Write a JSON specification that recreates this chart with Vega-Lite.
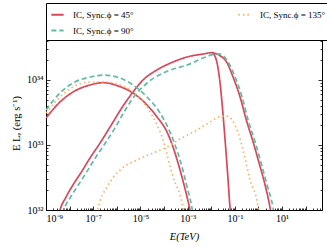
{
  "$schema": "https://vega.github.io/schema/vega-lite/v6.json",
  "width": 276,
  "height": 174,
  "autosize": {"type": "none"},
  "padding": {"left": 46, "top": 36, "right": 5, "bottom": 37},
  "config": {
    "view": {"stroke": "black", "strokeWidth": 1},
    "axis": {"grid": false, "domainColor": "black", "tickColor": "black", "tickWidth": 0.8, "labelColor": "black", "titleColor": "black", "labelFont": "Liberation Serif", "labelFontSize": 10, "titleFont": "Liberation Serif", "titleFontSize": 10.5, "titleFontWeight": "normal"}
  },
  "data": {"values": [
    {"p":"45","c":"sync","x":1e-9,"y":2.6e33},{"p":"45","c":"sync","x":3.92e-9,"y":4.59e33},{"p":"45","c":"sync","x":1.39e-8,"y":6.53e33},{"p":"45","c":"sync","x":7.31e-8,"y":8.38e33},{"p":"45","c":"sync","x":2.6e-7,"y":9.08e33},{"p":"45","c":"sync","x":1.37e-6,"y":7.89e33},{"p":"45","c":"sync","x":4.85e-6,"y":6.31e33},{"p":"45","c":"sync","x":1.91e-5,"y":4.12e33},{"p":"45","c":"sync","x":5.05e-5,"y":2.7e33},{"p":"45","c":"sync","x":1.34e-4,"y":1.58e33},{"p":"45","c":"sync","x":2.4e-4,"y":9.31e32},{"p":"45","c":"sync","x":4.76e-4,"y":4.12e32},{"p":"45","c":"sync","x":9.44e-4,"y":1.58e32},{"p":"45","c":"sync","x":1.26e-3,"y":1e32},{"p":"45","c":"sync","x":1.38e-3,"y":8.4e31},
    {"p":"45","c":"ic","x":3.22e-9,"y":7.5e31},{"p":"45","c":"ic","x":3.92e-9,"y":1e32},{"p":"45","c":"ic","x":7.03e-9,"y":1.58e32},{"p":"45","c":"ic","x":1.39e-8,"y":2.43e32},{"p":"45","c":"ic","x":3.35e-8,"y":3.98e32},{"p":"45","c":"ic","x":7.31e-8,"y":6.31e32},{"p":"45","c":"ic","x":1.94e-7,"y":1.07e33},{"p":"45","c":"ic","x":5.15e-7,"y":1.89e33},{"p":"45","c":"ic","x":1.83e-6,"y":3.98e33},{"p":"45","c":"ic","x":4.85e-6,"y":6.53e33},{"p":"45","c":"ic","x":1.29e-5,"y":1e34},{"p":"45","c":"ic","x":5.05e-5,"y":1.43e34},{"p":"45","c":"ic","x":2.4e-4,"y":1.89e34},{"p":"45","c":"ic","x":9.44e-4,"y":2.26e34},{"p":"45","c":"ic","x":4.5e-3,"y":2.51e34},{"p":"45","c":"ic","x":1.08e-2,"y":2.63e34},{"p":"45","c":"ic","x":1.45e-2,"y":2.3e34},{"p":"45","c":"ic","x":1.76e-2,"y":1.83e34},{"p":"45","c":"ic","x":2.36e-2,"y":8.99e33},{"p":"45","c":"ic","x":3.16e-2,"y":2.9e33},{"p":"45","c":"ic","x":3.85e-2,"y":1.19e33},{"p":"45","c":"ic","x":5.15e-2,"y":2.9e32},{"p":"45","c":"ic","x":6.27e-2,"y":1.07e32},{"p":"45","c":"ic","x":6.9e-2,"y":8e31},
    {"p":"45","c":"ic2","x":1.08e-2,"y":2.63e34},{"p":"45","c":"ic2","x":2.2e-2,"y":2.4e34},{"p":"45","c":"ic2","x":4.67e-2,"y":1.83e34},{"p":"45","c":"ic2","x":8.39e-2,"y":1.11e34},{"p":"45","c":"ic2","x":0.166,"y":5.47e33},{"p":"45","c":"ic2","x":0.298,"y":2.5e33},{"p":"45","c":"ic2","x":0.59,"y":1.12e33},{"p":"45","c":"ic2","x":1.06,"y":5.28e32},{"p":"45","c":"ic2","x":1.9,"y":2.43e32},{"p":"45","c":"ic2","x":3.1,"y":1.07e32},{"p":"45","c":"ic2","x":3.4,"y":8.7e31},
    {"p":"90","c":"sync","x":1e-9,"y":3.45e33},{"p":"90","c":"sync","x":3.92e-9,"y":6.31e33},{"p":"90","c":"sync","x":1.39e-8,"y":8.99e33},{"p":"90","c":"sync","x":7.31e-8,"y":1.11e34},{"p":"90","c":"sync","x":2.6e-7,"y":1.19e34},{"p":"90","c":"sync","x":1.02e-6,"y":1.11e34},{"p":"90","c":"sync","x":4.85e-6,"y":8.38e33},{"p":"90","c":"sync","x":1.91e-5,"y":5.47e33},{"p":"90","c":"sync","x":6.78e-5,"y":3.1e33},{"p":"90","c":"sync","x":1.79e-4,"y":1.58e33},{"p":"90","c":"sync","x":2.92e-4,"y":1e33},{"p":"90","c":"sync","x":4.76e-4,"y":5.87e32},{"p":"90","c":"sync","x":9.44e-4,"y":2.26e32},{"p":"90","c":"sync","x":1.53e-3,"y":1.07e32},{"p":"90","c":"sync","x":1.69e-3,"y":8.7e31},
    {"p":"90","c":"ic","x":5.25e-9,"y":8.7e31},{"p":"90","c":"ic","x":5.79e-9,"y":1e32},{"p":"90","c":"ic","x":1.04e-8,"y":1.53e32},{"p":"90","c":"ic","x":2.06e-8,"y":2.26e32},{"p":"90","c":"ic","x":4.95e-8,"y":3.71e32},{"p":"90","c":"ic","x":1.08e-7,"y":5.87e32},{"p":"90","c":"ic","x":2.87e-7,"y":1e33},{"p":"90","c":"ic","x":8.39e-7,"y":1.83e33},{"p":"90","c":"ic","x":2.02e-6,"y":3.22e33},{"p":"90","c":"ic","x":4.85e-6,"y":5.28e33},{"p":"90","c":"ic","x":1.91e-5,"y":8.99e33},{"p":"90","c":"ic","x":9.08e-5,"y":1.28e34},{"p":"90","c":"ic","x":4.76e-4,"y":1.58e34},{"p":"90","c":"ic","x":9.44e-4,"y":1.7e34},{"p":"90","c":"ic","x":4.5e-3,"y":2.18e34},{"p":"90","c":"ic","x":1.76e-2,"y":2.51e34},{"p":"90","c":"ic","x":2.36e-2,"y":2.51e34},{"p":"90","c":"ic","x":5.15e-2,"y":1.89e34},{"p":"90","c":"ic","x":0.102,"y":1.11e34},{"p":"90","c":"ic","x":0.202,"y":5.47e33},{"p":"90","c":"ic","x":0.362,"y":2.43e33},{"p":"90","c":"ic","x":0.718,"y":1.12e33},{"p":"90","c":"ic","x":1.29,"y":5.28e32},{"p":"90","c":"ic","x":2.31,"y":2.43e32},{"p":"90","c":"ic","x":4.16,"y":1.07e32},{"p":"90","c":"ic","x":4.58,"y":8.7e31},
    {"p":"135","c":"sync","x":1e-9,"y":3.1e33},{"p":"135","c":"sync","x":3.92e-9,"y":5.47e33},{"p":"135","c":"sync","x":1.39e-8,"y":7.8e33},{"p":"135","c":"sync","x":7.31e-8,"y":9.31e33},{"p":"135","c":"sync","x":3.85e-7,"y":9.31e33},{"p":"135","c":"sync","x":1.37e-6,"y":8.38e33},{"p":"135","c":"sync","x":4.85e-6,"y":6.53e33},{"p":"135","c":"sync","x":1.29e-5,"y":4.59e33},{"p":"135","c":"sync","x":3.42e-5,"y":2.7e33},{"p":"135","c":"sync","x":9.08e-5,"y":1.19e33},{"p":"135","c":"sync","x":2.4e-4,"y":3.22e32},{"p":"135","c":"sync","x":5.79e-4,"y":1.28e32},{"p":"135","c":"sync","x":7.03e-4,"y":8.7e31},
    {"p":"135","c":"ic","x":1.45e-7,"y":8.7e31},{"p":"135","c":"ic","x":1.6e-7,"y":1.07e32},{"p":"135","c":"ic","x":3.85e-7,"y":2.26e32},{"p":"135","c":"ic","x":1.37e-6,"y":4.12e32},{"p":"135","c":"ic","x":7.18e-6,"y":5.87e32},{"p":"135","c":"ic","x":3.42e-5,"y":7.53e32},{"p":"135","c":"ic","x":1.34e-4,"y":9.31e32},{"p":"135","c":"ic","x":4.76e-4,"y":1.24e33},{"p":"135","c":"ic","x":2.5e-3,"y":1.7e33},{"p":"135","c":"ic","x":8.89e-3,"y":2.26e33},{"p":"135","c":"ic","x":2.87e-2,"y":2.79e33},{"p":"135","c":"ic","x":4.24e-2,"y":2.79e33},{"p":"135","c":"ic","x":7.6e-2,"y":2.43e33},{"p":"135","c":"ic","x":0.137,"y":1.53e33},{"p":"135","c":"ic","x":0.222,"y":8.38e32},{"p":"135","c":"ic","x":0.441,"y":2.9e32},{"p":"135","c":"ic","x":0.962,"y":1.11e32},{"p":"135","c":"ic","x":1.05,"y":8.7e31}
  ]},
  "layer": [
    {
      "mark": {"type": "line", "clip": true, "interpolate": "monotone"},
      "encoding": {
        "x": {"field": "x", "type": "quantitative", "scale": {"type": "log", "domain": [1e-9, 490], "nice": false},
          "axis": {"orient": "bottom", "title": "E(TeV)", "titleFontStyle": "italic", "titlePadding": 8, "labelPadding": 7,
            "values": [1e-9,2e-9,3e-9,4e-9,5e-9,6e-9,7e-9,8e-9,9e-9,1e-8,2e-8,3e-8,4e-8,5e-8,6e-8,7e-8,8e-8,9e-8,1e-7,2e-7,3e-7,4e-7,5e-7,6e-7,7e-7,8e-7,9e-7,1e-6,2e-6,3e-6,4e-6,5e-6,6e-6,7e-6,8e-6,9e-6,1e-5,2e-5,3e-5,4e-5,5e-5,6e-5,7e-5,8e-5,9e-5,1e-4,2e-4,3e-4,4e-4,5e-4,6e-4,7e-4,8e-4,9e-4,1e-3,2e-3,3e-3,4e-3,5e-3,6e-3,7e-3,8e-3,9e-3,1e-2,2e-2,3e-2,4e-2,5e-2,6e-2,7e-2,8e-2,9e-2,0.1,0.2,0.3,0.4,0.5,0.6,0.7,0.8,0.9,1,2,3,4,5,6,7,8,9,10,20,30,40,50,60,70,80,90,100,200,300,400],
            "tickSize": {"condition": {"test": "abs(log(datum.value)/LN10 - round(log(datum.value)/LN10)) < 1e-6", "value": -4}, "value": -2},
            "labelExpr": "datum.value == 1e-9 ? '10⁻⁹' : datum.value == 1e-7 ? '10⁻⁷' : datum.value == 1e-5 ? '10⁻⁵' : datum.value == 1e-3 ? '10⁻³' : datum.value == 0.1 ? '10⁻¹' : datum.value == 10 ? '10¹' : ''"}},
        "y": {"field": "y", "type": "quantitative", "scale": {"type": "log", "domain": [1e32, 4.75e34], "nice": false},
          "axis": {"orient": "left", "title": "E Lₑ (erg s⁻¹)", "titlePadding": 5, "labelPadding": 7,
            "values": [1e32,2e32,3e32,4e32,5e32,6e32,7e32,8e32,9e32,1e33,2e33,3e33,4e33,5e33,6e33,7e33,8e33,9e33,1e34,2e34,3e34,4e34],
            "tickSize": {"condition": {"test": "abs(log(datum.value)/LN10 - round(log(datum.value)/LN10)) < 1e-6", "value": -4}, "value": -2},
            "labelExpr": "datum.value == 1e32 ? '10³²' : datum.value == 1e33 ? '10³³' : datum.value == 1e34 ? '10³⁴' : ''"}},
        "color": {"field": "p", "type": "nominal", "scale": {"domain": ["45", "90", "135"], "range": ["#d9475b", "#5fbca3", "#ffb061"]},
          "legend": {"orient": "none", "legendX": 0, "legendY": -33, "columns": 2, "title": null, "strokeColor": "black", "fillColor": "white", "padding": 4, "columnPadding": 100, "rowPadding": 3, "labelFont": "Liberation Serif", "labelFontSize": 9, "labelColor": "black", "symbolType": "stroke", "symbolSize": 150, "symbolStrokeWidth": 2, "labelOffset": 8, "labelExpr": "'IC, Sync.ϕ = ' + datum.label + '°'"}},
        "strokeDash": {"field": "p", "type": "nominal", "scale": {"domain": ["45", "90", "135"], "range": [[1, 0], [5, 3], [1.5, 3]]},
          "legend": {"orient": "none", "legendX": 0, "legendY": -33, "columns": 2, "title": null, "strokeColor": "black", "fillColor": "white", "padding": 4, "columnPadding": 100, "rowPadding": 3, "labelFont": "Liberation Serif", "labelFontSize": 9, "labelColor": "black", "symbolType": "stroke", "symbolSize": 150, "symbolStrokeWidth": 2, "labelOffset": 8, "labelExpr": "'IC, Sync.ϕ = ' + datum.label + '°'"}},
        "strokeWidth": {"field": "c", "type": "nominal", "scale": {"domain": ["sync", "ic", "ic2"], "range": [1.7, 1.7, 1]}, "legend": null},
        "detail": {"field": "c"}
      }
    },
    {
      "mark": {"type": "line", "opacity": 0, "clip": true},
      "encoding": {
        "x": {"field": "x", "type": "quantitative", "scale": {"type": "log", "domain": [1e-9, 490], "nice": false},
          "axis": {"orient": "top", "title": null, "labels": false, "domain": false,
            "values": [1e-9,2e-9,3e-9,4e-9,5e-9,6e-9,7e-9,8e-9,9e-9,1e-8,2e-8,3e-8,4e-8,5e-8,6e-8,7e-8,8e-8,9e-8,1e-7,2e-7,3e-7,4e-7,5e-7,6e-7,7e-7,8e-7,9e-7,1e-6,2e-6,3e-6,4e-6,5e-6,6e-6,7e-6,8e-6,9e-6,1e-5,2e-5,3e-5,4e-5,5e-5,6e-5,7e-5,8e-5,9e-5,1e-4,2e-4,3e-4,4e-4,5e-4,6e-4,7e-4,8e-4,9e-4,1e-3,2e-3,3e-3,4e-3,5e-3,6e-3,7e-3,8e-3,9e-3,1e-2,2e-2,3e-2,4e-2,5e-2,6e-2,7e-2,8e-2,9e-2,0.1,0.2,0.3,0.4,0.5,0.6,0.7,0.8,0.9,1,2,3,4,5,6,7,8,9,10,20,30,40,50,60,70,80,90,100,200,300,400],
            "tickSize": {"condition": {"test": "abs(log(datum.value)/LN10 - round(log(datum.value)/LN10)) < 1e-6", "value": -4}, "value": -2}}},
        "y": {"field": "y", "type": "quantitative", "scale": {"type": "log", "domain": [1e32, 4.75e34], "nice": false},
          "axis": {"orient": "right", "title": null, "labels": false, "domain": false,
            "values": [1e32,2e32,3e32,4e32,5e32,6e32,7e32,8e32,9e32,1e33,2e33,3e33,4e33,5e33,6e33,7e33,8e33,9e33,1e34,2e34,3e34,4e34],
            "tickSize": {"condition": {"test": "abs(log(datum.value)/LN10 - round(log(datum.value)/LN10)) < 1e-6", "value": -4}, "value": -2}}},
        "detail": {"field": "p"}
      }
    }
  ],
  "resolve": {"axis": {"x": "independent", "y": "independent"}}
}
